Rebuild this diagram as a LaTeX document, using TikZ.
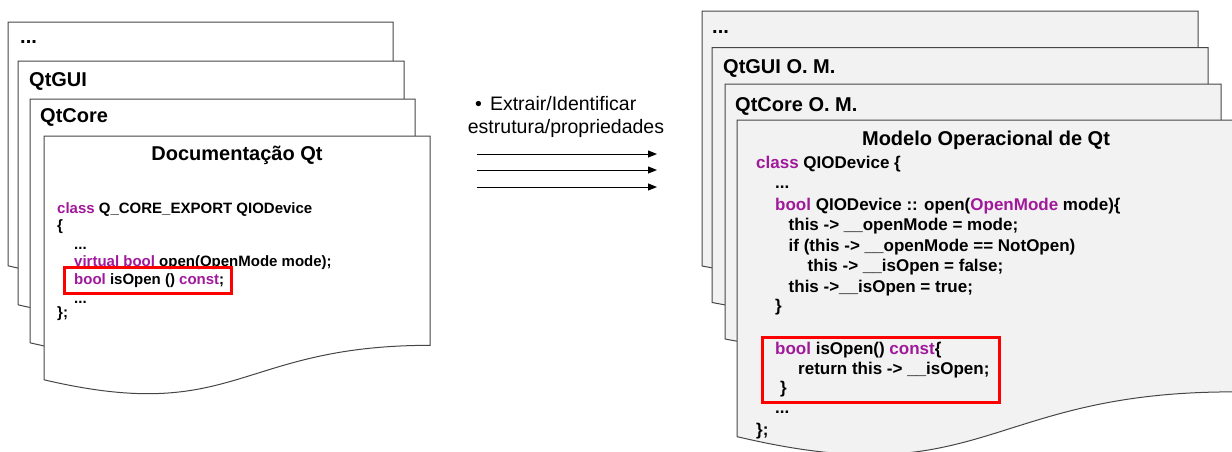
\documentclass[tikz,border=0pt]{standalone}
\usepackage{fontspec}
\setmainfont{Liberation Sans}
\usetikzlibrary{arrows.meta}

\definecolor{kwpurple}{RGB}{160,25,155}
\definecolor{pagegray}{RGB}{242,242,242}
\definecolor{edgegray}{RGB}{70,70,70}
\newcommand{\kw}[1]{\textcolor{kwpurple}{#1}}
% sheet with a wavy lower edge: style, x, y, width, height
\newcommand{\docpage}[5]{%
  \draw[#1] (#2,#3) -- ++(#4,0) -- ++(0,0.802*#5)
    .. controls +(-0.5*#4,0) and +(0.5*#4,0.1736*#5) .. (#2,#3+0.934*#5) -- cycle;}

\begin{document}
\begin{tikzpicture}[x=1pt,y=-1pt,
    leftpage/.style={draw=edgegray,line width=1pt,fill=white},
    rightpage/.style={draw=edgegray,line width=1pt,fill=pagegray},
    pagelabel/.style={anchor=base west,inner sep=0pt,font=\bfseries\fontsize{20}{24}\selectfont},
    pagetitle/.style={anchor=base,inner sep=0pt,font=\bfseries\fontsize{20}{24}\selectfont},
    lcode/.style={anchor=base west,inner sep=0pt,font=\bfseries\fontsize{15}{18}\selectfont},
    rcode/.style={anchor=base west,inner sep=0pt,font=\bfseries\fontsize{17}{20}\selectfont},
    hilite/.style={draw=red,line width=3pt},
    flow/.style={-{Triangle[length=9pt,width=7pt]},line width=1pt}]

    \useasboundingbox (0,0) rectangle (1232,451);

    % left stack: documentation
    \docpage{leftpage}{8}{22}{385}{261}
    \node[pagelabel] (ldots) at (20,43) {...};
    \docpage{leftpage}{18}{61}{386}{261}
    \node[pagelabel] (lgui) at (29,86) {QtGUI};
    \docpage{leftpage}{30}{99}{385}{261}
    \node[pagelabel] (lcore) at (40,122.5) {QtCore};
    \docpage{leftpage}{44}{136}{386}{261}
    \node[pagetitle] (ldoc) at (237,160.5) {Documentação Qt};

    \node[lcode] (l1) at (57,213) {\kw{class} Q\_CORE\_EXPORT QIODevice};
    \node[lcode] (l2) at (57,230) {\{};
    \node[lcode] (l3) at (74,249) {...};
    \node[lcode] (l4) at (74,266) {\kw{virtual bool} open(OpenMode mode);};
    \node[lcode] (l5) at (74,284) {\kw{bool} isOpen () \kw{const};};
    \node[lcode] (l6) at (74,303) {...};
    \node[lcode] (l7) at (57,317) {\};};
    \draw[hilite] (64,267) rectangle (231,293);

    % extraction step
    \node[anchor=base west,inner sep=0pt,font=\fontsize{19.5}{23}\selectfont] (step1) at (475,110)
        {\textbullet\hspace{8pt}Extrair/Identificar};
    \node[anchor=base,inner sep=0pt,font=\fontsize{19.5}{23}\selectfont] (step2) at (566,133)
        {estrutura/propriedades};
    \coordinate (a1s) at (477,154); \coordinate (a1e) at (657,154);
    \coordinate (a2s) at (477,170); \coordinate (a2e) at (657,170);
    \coordinate (a3s) at (477,187); \coordinate (a3e) at (657,187);
    \draw[flow] (a1s) -- (a1e);
    \draw[flow] (a2s) -- (a2e);
    \draw[flow] (a3s) -- (a3e);

    % right stack: operational model
    \docpage{rightpage}{702}{11}{496}{273}
    \node[pagelabel] (rdots) at (712,33) {...};
    \docpage{rightpage}{712}{47.5}{496}{273}
    \node[pagelabel] (rgui) at (723,73.5) {QtGUI O. M.};
    \docpage{rightpage}{725}{84}{496}{273}
    \node[pagelabel] (rcore) at (735,111) {QtCore O. M.};
    \docpage{rightpage}{737}{120}{496}{339}
    \node[pagetitle] (rmodel) at (986,145) {Modelo Operacional de Qt};

    \node[rcode] (r1) at (756,168.5) {\kw{class} QIODevice \{};
    \node[rcode] (r2) at (775,188) {...};
    \node[rcode] (r3) at (775,210) {\kw{bool} QIODevice :: open(\kw{OpenMode} mode)\{};
    \node[rcode] (r4) at (788.5,230.5) {this -> \_\_openMode = mode;};
    \node[rcode] (r5) at (788.5,251.5) {if (this -> \_\_openMode == NotOpen)};
    \node[rcode] (r6) at (807.5,271.5) {this -> \_\_isOpen = false;};
    \node[rcode] (r7) at (788.5,292) {this ->\_\_isOpen = true;};
    \node[rcode] (r8) at (775,311.5) {\}};
    \node[rcode] (r9) at (775,354) {\kw{bool} isOpen() \kw{const}\{};
    \node[rcode] (r10) at (798,374) {return this -> \_\_isOpen;};
    \node[rcode] (r11) at (780,393) {\}};
    \node[rcode] (r12) at (775,413) {...};
    \node[rcode] (r13) at (756,435) {\};};
    \draw[hilite] (762,337) rectangle (999,402);
\end{tikzpicture}
\end{document}
